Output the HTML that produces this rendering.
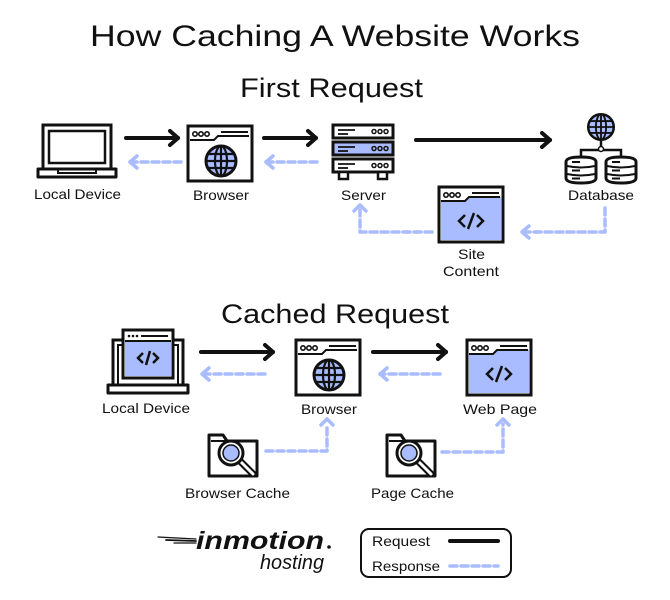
<!DOCTYPE html>
<html><head><meta charset="utf-8"><style>
html,body{margin:0;padding:0;background:#fff;}
svg{display:block;font-family:"Liberation Sans",sans-serif;}
</style></head><body>
<svg width="670" height="600" viewBox="0 0 670 600" xmlns="http://www.w3.org/2000/svg">
<defs>
  <g id="globe">
    <circle cx="0" cy="0" r="15" fill="#a9bcff" stroke="#111" stroke-width="3"/>
    <ellipse cx="0" cy="0" rx="6" ry="15" fill="none" stroke="#111" stroke-width="2.2"/>
    <line x1="0" y1="-15" x2="0" y2="15" stroke="#111" stroke-width="2.2"/>
    <line x1="-15" y1="0" x2="15" y2="0" stroke="#111" stroke-width="2.2"/>
    <line x1="-13" y1="-7" x2="13" y2="-7" stroke="#111" stroke-width="2.2"/>
    <line x1="-13" y1="7" x2="13" y2="7" stroke="#111" stroke-width="2.2"/>
  </g>
  <g id="win">
    <rect x="0" y="0" width="64" height="55" fill="#fff" stroke="#111" stroke-width="3"/>
    <circle cx="7" cy="8" r="2.2" fill="none" stroke="#111" stroke-width="1.6"/>
    <circle cx="13" cy="8" r="2.2" fill="none" stroke="#111" stroke-width="1.6"/>
    <circle cx="19" cy="8" r="2.2" fill="none" stroke="#111" stroke-width="1.6"/>
    <path d="M2 14 H26 L30 10 H61" fill="none" stroke="#111" stroke-width="2"/>
    <line x1="33" y1="6" x2="60" y2="6" stroke="#111" stroke-width="2"/>
  </g>
  <g id="codewin">
    <rect x="0" y="0" width="64" height="55" fill="#fff" stroke="#111" stroke-width="3"/>
    <path d="M2 14 H26 L30 10 H62 V53 H2 Z" fill="#a9bcff"/>
    <circle cx="7" cy="8" r="2.2" fill="none" stroke="#111" stroke-width="1.6"/>
    <circle cx="13" cy="8" r="2.2" fill="none" stroke="#111" stroke-width="1.6"/>
    <circle cx="19" cy="8" r="2.2" fill="none" stroke="#111" stroke-width="1.6"/>
    <path d="M2 14 H26 L30 10 H61" fill="none" stroke="#111" stroke-width="2"/>
    <line x1="33" y1="6" x2="60" y2="6" stroke="#111" stroke-width="2"/>
    <path d="M26 28 L20 34 L26 40 M38 28 L44 34 L38 40 M35 26 L29 42" fill="none" stroke="#111" stroke-width="2.5"/>
  </g>
  <g id="folder">
    <path d="M0 5 H14 L18 11 H48 V46 H0 Z" fill="#fff" stroke="#111" stroke-width="3" stroke-linejoin="round"/>
    <line x1="2" y1="11" x2="18" y2="11" stroke="#111" stroke-width="2"/>
    <line x1="31" y1="31" x2="44" y2="44" stroke="#111" stroke-width="7" stroke-linecap="round"/>
    <line x1="31" y1="31" x2="44" y2="44" stroke="#fff" stroke-width="3" stroke-linecap="round"/>
    <circle cx="22" cy="23" r="12" fill="#fff" stroke="#111" stroke-width="3"/>
    <circle cx="22" cy="23" r="8" fill="#a9bcff" stroke="#111" stroke-width="1.5"/>
  </g>
  <g id="cyl">
    <path d="M0 5 Q0 0 15 0 Q30 0 30 5 V21 Q30 26 15 26 Q0 26 0 21 Z" fill="#fff" stroke="#111" stroke-width="3"/>
    <path d="M1 9 Q15 12 29 9 M1 17 Q15 20 29 17" fill="none" stroke="#111" stroke-width="2"/>
    <line x1="6" y1="5" x2="14" y2="5" stroke="#111" stroke-width="2"/>
    <line x1="6" y1="13.5" x2="14" y2="13.5" stroke="#111" stroke-width="2"/>
    <line x1="6" y1="21.5" x2="14" y2="21.5" stroke="#111" stroke-width="2"/>
  </g>
  <g id="srv">
    <rect x="0" y="0" width="60" height="13" stroke="#111" stroke-width="3"/>
    <line x1="5" y1="5" x2="22" y2="5" stroke="#111" stroke-width="1.8"/>
    <line x1="5" y1="9" x2="15" y2="9" stroke="#111" stroke-width="1.8"/>
    <circle cx="41" cy="6.5" r="2" fill="none" stroke="#111" stroke-width="1.5"/>
    <circle cx="47" cy="6.5" r="2" fill="none" stroke="#111" stroke-width="1.5"/>
    <circle cx="53" cy="6.5" r="2" fill="none" stroke="#111" stroke-width="1.5"/>
  </g>
</defs>

<g fill="#111">
<text x="90" y="46" font-size="30" textLength="490" lengthAdjust="spacingAndGlyphs">How Caching A Website Works</text>
<text x="240" y="97" font-size="27" textLength="183" lengthAdjust="spacingAndGlyphs">First Request</text>
<text x="221" y="323" font-size="27" textLength="228" lengthAdjust="spacingAndGlyphs">Cached Request</text>
</g>

<!-- black arrows -->
<g stroke="#111" stroke-width="4" fill="none" stroke-linecap="round" stroke-linejoin="round">
<line x1="126" y1="138" x2="178" y2="138"/><path d="M170 131 L178 138 L170 145"/>
<line x1="264" y1="138" x2="316" y2="138"/><path d="M308 131 L316 138 L308 145"/>
<line x1="416" y1="140" x2="550" y2="140"/><path d="M542 133 L550 140 L542 147"/>
<line x1="201" y1="352" x2="273" y2="352"/><path d="M265 345 L273 352 L265 359"/>
<line x1="373" y1="352" x2="446" y2="352"/><path d="M438 345 L446 352 L438 359"/>
</g>

<!-- legend box -->
<rect x="361" y="529" width="150" height="48" rx="8" fill="#fff" stroke="#111" stroke-width="2"/>

<!-- dashed responses -->
<g stroke="#a9bcff" stroke-width="3.5" fill="none" stroke-dasharray="7 4" stroke-linecap="round" stroke-linejoin="round">
<line x1="181" y1="162" x2="130" y2="162"/>
<line x1="317" y1="162" x2="266" y2="162"/>
<path d="M605 208 V232 H522"/>
<path d="M432 232 H360 V210"/>
<line x1="265" y1="374" x2="202" y2="374"/>
<line x1="440" y1="374" x2="380" y2="374"/>
<path d="M266 451 H327 V424"/>
<path d="M442 452 H503 V424"/>
<line x1="450" y1="566" x2="498" y2="566"/>
</g>
<g stroke="#a9bcff" stroke-width="3.5" fill="none" stroke-linecap="round" stroke-linejoin="round">
<path d="M137 156 L130 162 L137 168"/>
<path d="M273 156 L266 162 L273 168"/>
<path d="M529 226 L522 232 L529 238"/>
<path d="M354 211 L360 205 L366 211"/>
<path d="M209 368 L202 374 L209 380"/>
<path d="M387 368 L380 374 L387 380"/>
<path d="M321 425 L327 419 L333 425"/>
<path d="M497 425 L503 419 L509 425"/>
</g>

<!-- laptop 1 -->
<rect x="43" y="125" width="68" height="44" fill="#fff" stroke="#111" stroke-width="3"/>
<rect x="49" y="131" width="56" height="32" fill="none" stroke="#111" stroke-width="2.5"/>
<path d="M38 169 H116 V177 H38 Z" fill="#fff" stroke="#111" stroke-width="3" stroke-linejoin="round"/>
<path d="M58 169 V173 H96 V169" fill="none" stroke="#111" stroke-width="2"/>

<!-- browser 1 -->
<use href="#win" x="188" y="126"/>
<use href="#globe" x="221" y="161"/>

<!-- server -->
<g fill="#fff"><use href="#srv" x="333" y="125"/></g>
<g fill="#a9bcff"><use href="#srv" x="333" y="142"/></g>
<g fill="#fff"><use href="#srv" x="333" y="159"/></g>
<rect x="339" y="172" width="9" height="7" fill="#fff" stroke="#111" stroke-width="2.5"/>
<rect x="378" y="172" width="9" height="7" fill="#fff" stroke="#111" stroke-width="2.5"/>

<!-- database -->
<use href="#globe" transform="translate(601,127) scale(0.85)"/>
<path d="M581 158 V150 H621 V158 M601 140 V150" fill="none" stroke="#111" stroke-width="2.5"/>
<circle cx="601" cy="149" r="2.5" fill="#fff" stroke="#111" stroke-width="1.5"/>
<use href="#cyl" x="566" y="157"/>
<use href="#cyl" x="606" y="157"/>

<!-- site content -->
<use href="#codewin" x="439" y="187"/>

<g fill="#111" font-size="14" lengthAdjust="spacingAndGlyphs">
<text x="34" y="199" textLength="87" lengthAdjust="spacingAndGlyphs">Local Device</text>
<text x="193" y="200" textLength="56" lengthAdjust="spacingAndGlyphs">Browser</text>
<text x="341" y="200" textLength="45" lengthAdjust="spacingAndGlyphs">Server</text>
<text x="568" y="200" textLength="66" lengthAdjust="spacingAndGlyphs">Database</text>
<text x="458" y="259" textLength="27" lengthAdjust="spacingAndGlyphs">Site</text>
<text x="443" y="276" textLength="56" lengthAdjust="spacingAndGlyphs">Content</text>
<text x="102" y="413" textLength="88" lengthAdjust="spacingAndGlyphs">Local Device</text>
<text x="301" y="414" textLength="56" lengthAdjust="spacingAndGlyphs">Browser</text>
<text x="463" y="414" textLength="74" lengthAdjust="spacingAndGlyphs">Web Page</text>
<text x="185" y="498" textLength="105" lengthAdjust="spacingAndGlyphs">Browser Cache</text>
<text x="371" y="498" textLength="83" lengthAdjust="spacingAndGlyphs">Page Cache</text>
<text x="372" y="546" textLength="58" lengthAdjust="spacingAndGlyphs">Request</text>
<text x="372" y="571" textLength="68" lengthAdjust="spacingAndGlyphs">Response</text>
</g>

<!-- laptop 2 -->
<rect x="113" y="340" width="70" height="45" fill="#fff" stroke="#111" stroke-width="3"/>
<rect x="118" y="345" width="60" height="40" fill="none" stroke="#111" stroke-width="2"/>
<path d="M108 385 H188 V393 H108 Z" fill="#fff" stroke="#111" stroke-width="3" stroke-linejoin="round"/>
<rect x="123" y="330" width="50" height="48" fill="#fff" stroke="#111" stroke-width="3"/>
<rect x="125" y="341" width="46" height="35" fill="#a9bcff"/>
<line x1="125" y1="341" x2="171" y2="341" stroke="#111" stroke-width="2"/>
<g fill="#111"><circle cx="129" cy="336" r="1.3"/><circle cx="133" cy="336" r="1.3"/><circle cx="137" cy="336" r="1.3"/></g>
<line x1="141" y1="336" x2="168" y2="336" stroke="#111" stroke-width="2"/>
<path d="M143 353 L138 358 L143 363 M153 353 L158 358 L153 363 M150 351 L146 365" fill="none" stroke="#111" stroke-width="2.5"/>

<!-- browser 2 -->
<use href="#win" x="296" y="340"/>
<use href="#globe" x="329" y="375"/>
<!-- web page -->
<use href="#codewin" x="467" y="340"/>

<!-- folders -->
<use href="#folder" x="209" y="430"/>
<use href="#folder" x="387" y="430"/>

<!-- logo -->
<g stroke="#111" stroke-linecap="round">
<line x1="158" y1="537" x2="196" y2="539" stroke-width="1.2"/>
<line x1="166" y1="540" x2="196" y2="541" stroke-width="1.8"/>
<line x1="174" y1="543" x2="196" y2="543" stroke-width="1.2"/>
</g>
<text x="196" y="549" font-size="25" font-weight="bold" font-style="italic" fill="#111" textLength="128" lengthAdjust="spacingAndGlyphs">inmotion</text>
<circle cx="329" cy="547" r="1.8" fill="#111"/>
<text x="260" y="569" font-size="20" font-style="italic" fill="#111" textLength="64" lengthAdjust="spacingAndGlyphs">hosting</text>

<line x1="450" y1="541" x2="498" y2="541" stroke="#111" stroke-width="4" stroke-linecap="round"/>
</svg>
</body></html>
